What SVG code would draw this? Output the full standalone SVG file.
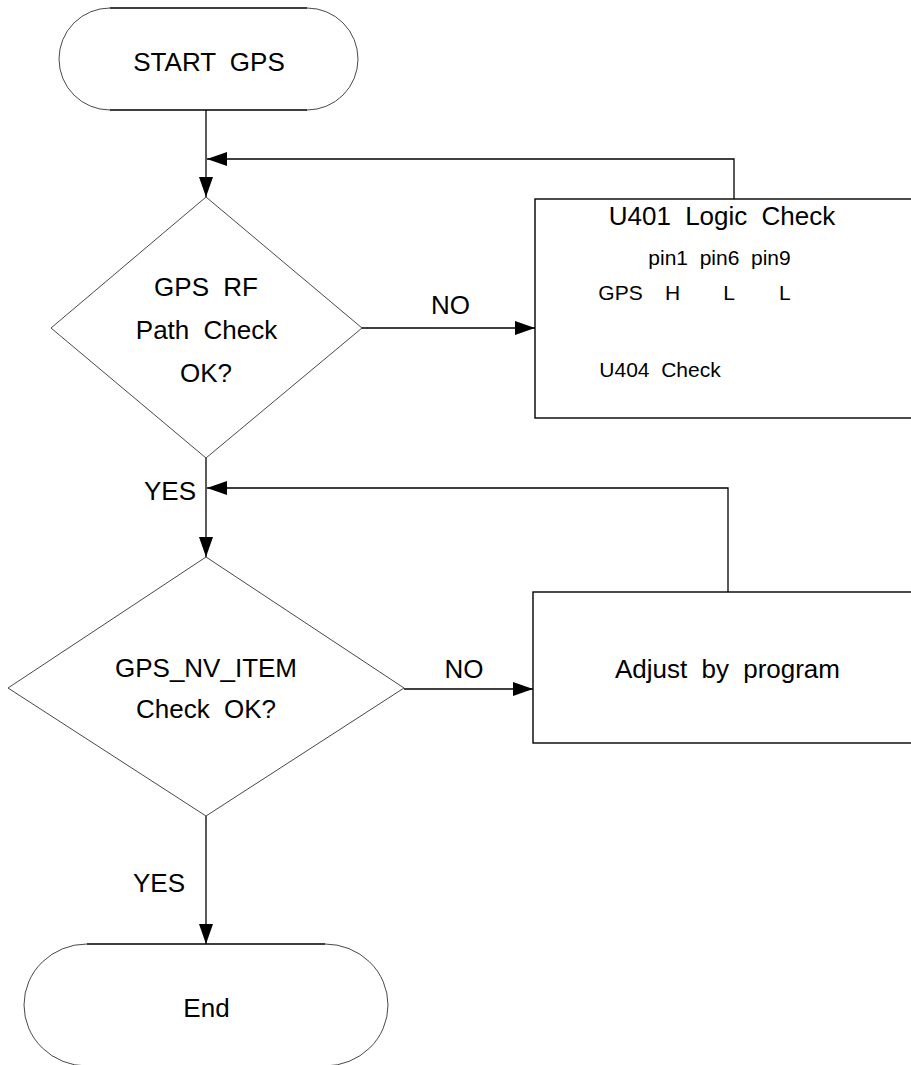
<svg xmlns="http://www.w3.org/2000/svg" width="911" height="1065" viewBox="0 0 911 1065">
<defs>
<marker id="arr" markerUnits="userSpaceOnUse" markerWidth="20" markerHeight="14" refX="20" refY="7" orient="auto">
<path d="M0,0 L20,7 L0,14 Z" fill="#000"/>
</marker>
<style>
.t{font-family:"Liberation Sans",Arial,sans-serif;font-size:26px;fill:#000;word-spacing:7px}
.s{font-family:"Liberation Sans",Arial,sans-serif;font-size:21px;fill:#000;word-spacing:5.8px}
.m{text-anchor:middle}
.edge{fill:none;stroke:#000;stroke-width:1.3}
.thin{fill:none;stroke:#333;stroke-width:0.9}
.box{fill:none;stroke:#000;stroke-width:1.4}
.conn{fill:none;stroke:#000;stroke-width:1.3;marker-end:url(#arr)}
</style>
</defs>
<rect width="911" height="1065" fill="#fff"/>
<g id="connectors">
<path class="conn" d="M206,110 V197"/>
<path class="conn" d="M734,199 V159 H207"/>
<path class="conn" d="M362,328 H535"/>
<path class="conn" d="M206,458 V557"/>
<path class="conn" d="M728,592 V488 H207"/>
<path class="conn" d="M404,689 H533"/>
<path class="conn" d="M206,816 V944"/>
<text class="t m" x="450.5" y="314">NO</text>
<text class="t m" x="170" y="500">YES</text>
<text class="t m" x="464" y="678">NO</text>
<text class="t m" x="159" y="892">YES</text>
</g>
<g id="start">
<path class="edge" d="M110,8 H307 M110,110 H307"/>
<path class="thin" d="M307,8 A51,51 0 0 1 307,110 M110,110 A51,51 0 0 1 110,8"/>
<text class="t m" x="209" y="70.7">START GPS</text>
</g>
<g id="d1">
<polygon class="thin" points="206,197 362,328 206,458 51,328"/>
<text class="t m" x="206" y="296">GPS RF</text>
<text class="t m" x="206.5" y="338.7">Path Check</text>
<text class="t m" x="206" y="382">OK?</text>
</g>
<g id="u401">
<rect class="box" x="535" y="199" width="400" height="219"/>
<text class="t m" x="722" y="225">U401 Logic Check</text>
<text class="s" x="648.3" y="265">pin1 pin6 pin9</text>
<text class="s" y="300"><tspan x="598.3">GPS</tspan><tspan x="665">H</tspan><tspan x="723.3">L</tspan><tspan x="779">L</tspan></text>
<text class="s" x="599.3" y="376.7">U404 Check</text>
</g>
<g id="d2">
<polygon class="thin" points="206,557 404,688 206,816 8,688"/>
<text class="t m" x="206" y="676.7">GPS_NV_ITEM</text>
<text class="t m" x="206" y="718.3">Check OK?</text>
</g>
<g id="adjust">
<rect class="box" x="533" y="592" width="400" height="151"/>
<text class="t m" x="727.5" y="677.7">Adjust by program</text>
</g>
<g id="end">
<path class="edge" d="M87,944 H325 M87,1066 H325"/>
<path class="thin" d="M325,944 A63,61 0 0 1 325,1066 M87,1066 A63,61 0 0 1 87,944"/>
<text class="t m" x="206.5" y="1016.7">End</text>
</g>
</svg>
